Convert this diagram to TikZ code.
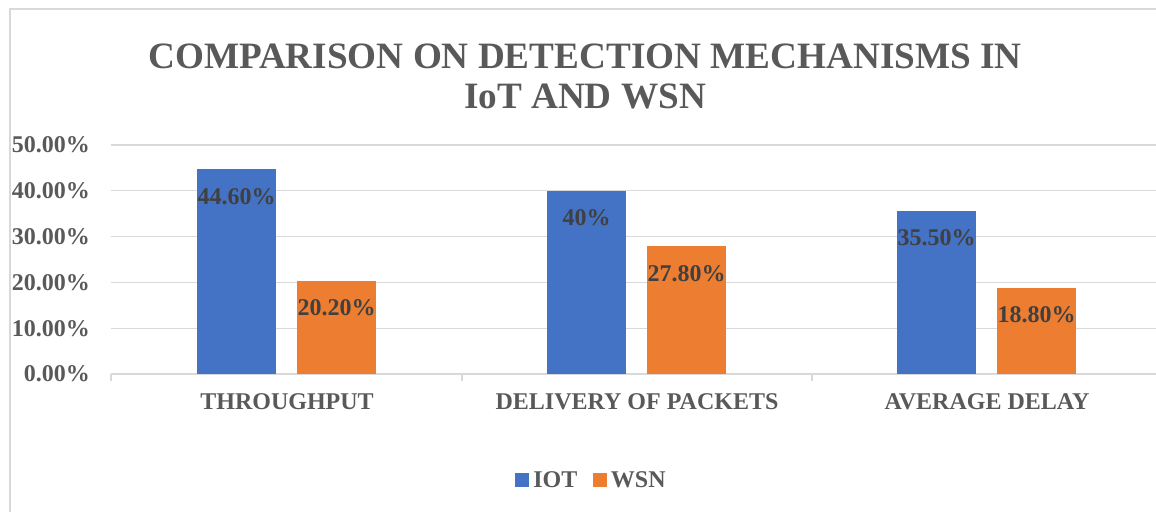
\documentclass[tikz,border=0pt]{standalone}
\usepackage{fontspec}
\setmainfont{Liberation Serif}
\usepackage{xcolor}
\usepackage{tikz}
\usetikzlibrary{positioning}
\definecolor{iotblue}{HTML}{4472C4}
\definecolor{wsnorange}{HTML}{ED7D31}
\definecolor{textgray}{HTML}{595959}
\definecolor{labelgray}{HTML}{404040}
\definecolor{gridgray}{HTML}{D9D9D9}
\tikzstyle{grid-line} = [draw=gridgray, line width=1.2pt]
\tikzstyle{iotbar} = [rectangle, fill=iotblue, draw=none, minimum width=79pt, inner sep=0pt, anchor=south]
\tikzstyle{wsnbar} = [rectangle, fill=wsnorange, draw=none, minimum width=79pt, inner sep=0pt, anchor=south]
\tikzstyle{vlabel} = [text=labelgray, font=\fontsize{24}{26}\selectfont\bfseries, inner sep=0pt]
\tikzstyle{axlabel} = [text=textgray, font=\fontsize{24}{26}\selectfont\bfseries, inner sep=0pt]
\tikzstyle{keybox} = [rectangle, minimum size=14pt, inner sep=0pt]

\begin{document}
\begin{tikzpicture}[x=1pt, y=1pt]
  \useasboundingbox (0,0) rectangle (1156,512);

  % Frame
  \draw[grid-line] (10,0) -- (10,503) -- (1156,503);

  % Title
  \node[text=textgray, font=\fontsize{37.2}{40}\selectfont\bfseries, align=center] (title) at (585,436)
    {COMPARISON ON DETECTION MECHANISMS IN\\IoT AND WSN};

  % Grid
  \foreach \v/\t in {1/10.00, 2/20.00, 3/30.00, 4/40.00, 5/50.00} {
    \draw[grid-line] (111,138+45.8*\v) -- (1156,138+45.8*\v);
    \node[axlabel, anchor=east] (y\v) at (90,138+45.8*\v) {\t\%};
  }
  \node[axlabel, anchor=east] (y0) at (90,138) {0.00\%};
  \draw[grid-line] (111,138) -- (1156,138);
  \foreach \x in {111, 462, 812} {
    \draw[grid-line] (\x,138) -- (\x,131);
  }

  % Bars
  \node[iotbar, minimum height=204.3pt] (iot1) at (236.5,138) {};
  \node[wsnbar, minimum height=92.5pt] (wsn1) at (336.5,138) {};
  \node[iotbar, minimum height=183.2pt] (iot2) at (586.5,138) {};
  \node[wsnbar, minimum height=127.3pt] (wsn2) at (686.5,138) {};
  \node[iotbar, minimum height=162.6pt] (iot3) at (936.5,138) {};
  \node[wsnbar, minimum height=86.1pt] (wsn3) at (1036.5,138) {};

  % Values
  \node[vlabel] (iot1val) at ([yshift=-27pt]iot1.north) {44.60\%};
  \node[vlabel] (wsn1val) at ([yshift=-27pt]wsn1.north) {20.20\%};
  \node[vlabel] (iot2val) at ([yshift=-27pt]iot2.north) {40\%};
  \node[vlabel] (wsn2val) at ([yshift=-27pt]wsn2.north) {27.80\%};
  \node[vlabel] (iot3val) at ([yshift=-27pt]iot3.north) {35.50\%};
  \node[vlabel] (wsn3val) at ([yshift=-27pt]wsn3.north) {18.80\%};

  % Categories
  \node[axlabel] (cat1) at (287,110) {THROUGHPUT};
  \node[axlabel] (cat2) at (637,110) {DELIVERY OF PACKETS};
  \node[axlabel] (cat3) at (987,110) {AVERAGE DELAY};

  % Legend
  \node[keybox, fill=iotblue] (iotkey) at (522,32.5) {};
  \node[axlabel, right=4pt of iotkey] (iottext) {IOT};
  \node[keybox, fill=wsnorange] (wsnkey) at (599.5,32.5) {};
  \node[axlabel, right=4pt of wsnkey] (wsntext) {WSN};

\end{tikzpicture}
\end{document}
